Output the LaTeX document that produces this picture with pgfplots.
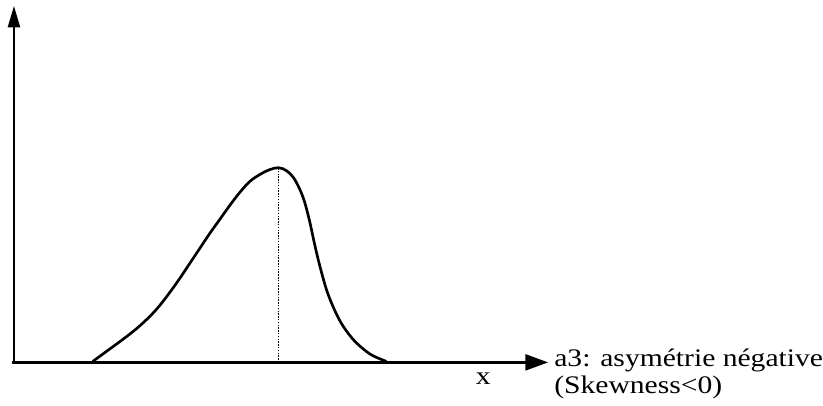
\documentclass[border=0pt]{standalone}
\usepackage{pgfplots}
\pgfplotsset{compat=1.18}
\usepackage{fontspec}
\setmainfont{Liberation Serif}
\newfontfamily\wideserif[FakeStretch=1.17]{Liberation Serif}
\usetikzlibrary{arrows.meta}
\begin{document}
\begin{tikzpicture}
\begin{axis}[
  scale only axis,
  width=617.25pt, height=304.5pt,
  xmin=0, xmax=823, ymin=0, ymax=406,
  hide axis, clip=false,
]
\addplot[draw=none] coordinates {(0,0) (823,406)};
% axes
\addplot[line width=1.7pt, -{Triangle[length=17pt,width=12pt]}] coordinates {(12,43) (549,43)};
\addplot[line width=1.7pt, -{Triangle[length=16pt,width=9pt]}] coordinates {(14,43) (14,400)};
% curve
\addplot[line width=2pt, smooth, tension=0.6] coordinates {
(93,44) (108,55) (123,66) (137,77) (150,89) (160,100) (170,113) (180,127)
(190,142) (200,157) (210,172) (220,186) (230,200) (240,213) (250,224)
(260,231) (270,236) (279,238) (287,235) (294,228) (300,217) (305,204)
(310,185) (315,162) (320,141) (327,116) (334,98) (342,82) (352,68)
(362,58) (373,50) (387,44)
};
% mode line
\addplot[line width=1.1pt, densely dotted] coordinates {(279,43) (279,237)};
\node[anchor=base] at (axis cs:484,21) {\wideserif\fontsize{19}{20}\selectfont x};
\node[anchor=base west, inner sep=0pt] at (axis cs:555,39) {\wideserif\fontsize{19}{20}\selectfont a3: asymétrie négative};
\node[anchor=base west, inner sep=0pt] at (axis cs:555,12) {\wideserif\fontsize{19}{20}\selectfont (Skewness<0)};
\end{axis}
\end{tikzpicture}
\end{document}
